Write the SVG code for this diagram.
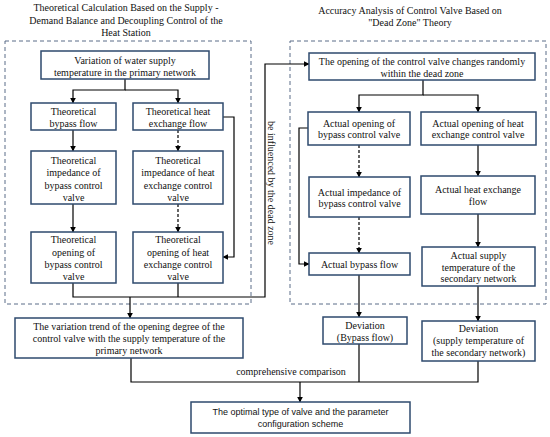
<svg xmlns="http://www.w3.org/2000/svg" width="550" height="437" viewBox="0 0 550 437">
<style>
.t{font-family:"Liberation Serif","Times New Roman",serif;font-size:10px;fill:#111;text-anchor:middle}
.s{font-family:"Liberation Sans",Arial,sans-serif;font-size:9px;fill:#111;text-anchor:middle}
.b{fill:#fff;stroke:#2e4a6e;stroke-width:1.5}
.g{fill:none;stroke:#5a6c88;stroke-width:1;stroke-dasharray:4 3}
.c{fill:none;stroke:#000;stroke-width:1.2}
.d{fill:none;stroke:#000;stroke-width:1.2;stroke-dasharray:3 2}
</style>
<defs>
<marker id="a" viewBox="0 0 10 10" refX="9" refY="5" markerWidth="6" markerHeight="6" orient="auto" markerUnits="userSpaceOnUse"><path d="M0,0L10,5L0,10z" fill="#000"/></marker>
</defs>
<rect width="550" height="437" fill="#fff"/>
<g id="titles">
<text class="t" x="126" y="11">Theoretical Calculation Based on the Supply -</text>
<text class="t" x="126" y="24">Demand Balance and Decoupling Control of the</text>
<text class="t" x="126" y="36">Heat Station</text>
<text class="t" x="410" y="14">Accuracy Analysis of Control Valve Based on</text>
<text class="t" x="410" y="26">"Dead Zone" Theory</text>
</g>
<g id="groups">
<rect class="g" x="5" y="41" width="246" height="263"/>
<rect class="g" x="290" y="41" width="256" height="263"/>
</g>
<g id="connectors">
<path class="c" d="M125,79V90H73V103" marker-end="url(#a)"/>
<path class="c" d="M125,90H178V103" marker-end="url(#a)"/>
<path class="c" d="M73,130V151" marker-end="url(#a)"/>
<path class="d" d="M178,130V151" marker-end="url(#a)"/>
<path class="c" d="M73,204V232" marker-end="url(#a)"/>
<path class="d" d="M178,204V232" marker-end="url(#a)"/>
<path class="c" d="M223,117H234V257H223" marker-end="url(#a)"/>
<path class="c" d="M73,283V297H265V64H309" marker-end="url(#a)"/>
<path class="c" d="M178,283V297"/>
<path class="c" d="M130,297V318" marker-end="url(#a)"/>
<path class="c" d="M423,80V95H359V112" marker-end="url(#a)"/>
<path class="c" d="M423,95H478V112" marker-end="url(#a)"/>
<path class="d" d="M359,145V177" marker-end="url(#a)"/>
<path class="c" d="M478,145V176" marker-end="url(#a)"/>
<path class="d" d="M359,217V253" marker-end="url(#a)"/>
<path class="c" d="M478,214V247" marker-end="url(#a)"/>
<path class="c" d="M308,128H299V264H309" marker-end="url(#a)"/>
<path class="c" d="M359,275V317" marker-end="url(#a)"/>
<path class="c" d="M478,286V321" marker-end="url(#a)"/>
<path class="c" d="M131,358V382H478V361"/>
<path class="c" d="M359,344V382"/>
<path class="c" d="M300,382V402" marker-end="url(#a)"/>
<text class="t" x="291" y="375">comprehensive comparison</text>
<text class="t" transform="translate(268,183) rotate(90)">be influenced by the dead zone</text>
</g>
<g id="n1"><rect class="b" x="41" y="51" width="168" height="28"/>
<text class="t" x="125" y="64">Variation of water supply</text><text class="t" x="125" y="75.5">temperature in the primary network</text></g>
<g id="n2"><rect class="b" x="31" y="103" width="85" height="27"/>
<text class="t" x="73.5" y="114.5">Theoretical</text><text class="t" x="73.5" y="126.5">bypass flow</text></g>
<g id="n3"><rect class="b" x="133" y="103" width="90" height="27"/>
<text class="t" x="178" y="114.5">Theoretical heat</text><text class="t" x="178" y="126.5">exchange flow</text></g>
<g id="n4"><rect class="b" x="31" y="151" width="85" height="53"/>
<text class="t" x="73.5" y="163.5">Theoretical</text><text class="t" x="73.5" y="176">impedance of</text><text class="t" x="73.5" y="188.5">bypass control</text><text class="t" x="73.5" y="201">valve</text></g>
<g id="n5"><rect class="b" x="133" y="151" width="90" height="53"/>
<text class="t" x="178" y="163.5">Theoretical</text><text class="t" x="178" y="176">impedance of heat</text><text class="t" x="178" y="188.5">exchange control</text><text class="t" x="178" y="201">valve</text></g>
<g id="n6"><rect class="b" x="31" y="232" width="85" height="51"/>
<text class="t" x="73.5" y="243">Theoretical</text><text class="t" x="73.5" y="255.5">opening of</text><text class="t" x="73.5" y="268">bypass control</text><text class="t" x="73.5" y="280">valve</text></g>
<g id="n7"><rect class="b" x="133" y="232" width="90" height="51"/>
<text class="t" x="178" y="243">Theoretical</text><text class="t" x="178" y="255.5">opening of heat</text><text class="t" x="178" y="268">exchange control</text><text class="t" x="178" y="280">valve</text></g>
<g id="n8"><rect class="b" x="309" y="53" width="226" height="27"/>
<text class="t" x="422" y="65">The opening of the control valve changes randomly</text><text class="t" x="422" y="76.5">within the dead zone</text></g>
<g id="n9"><rect class="b" x="308" y="112" width="102" height="33"/>
<text class="t" x="359" y="126.5">Actual opening of</text><text class="t" x="359" y="138">bypass control valve</text></g>
<g id="n10"><rect class="b" x="421" y="112" width="115" height="33"/>
<text class="t" x="478" y="126.5">Actual opening of heat</text><text class="t" x="478" y="138">exchange control valve</text></g>
<g id="n11"><rect class="b" x="309" y="177" width="101" height="40"/>
<text class="t" x="359.5" y="195.5">Actual impedance of</text><text class="t" x="359.5" y="207">bypass control valve</text></g>
<g id="n12"><rect class="b" x="421" y="176" width="114" height="38"/>
<text class="t" x="478" y="192.5">Actual heat exchange</text><text class="t" x="478" y="204.5">flow</text></g>
<g id="n13"><rect class="b" x="309" y="253" width="101" height="22"/>
<text class="t" x="359.5" y="267.5">Actual bypass flow</text></g>
<g id="n14"><rect class="b" x="422" y="247" width="113" height="39"/>
<text class="t" x="478.5" y="258.5">Actual supply</text><text class="t" x="478.5" y="270.5">temperature of the</text><text class="t" x="478.5" y="282">secondary network</text></g>
<g id="n15"><rect class="b" x="15" y="318" width="228" height="40"/>
<text class="t" x="129" y="329.5">The variation trend of the opening degree of the</text><text class="t" x="129" y="341.5">control valve with the supply temperature of the</text><text class="t" x="129" y="354">primary network</text></g>
<g id="n16"><rect class="b" x="323" y="317" width="84" height="27"/>
<text class="t" x="365" y="328.5">Deviation</text><text class="t" x="365" y="340.5">(Bypass flow)</text></g>
<g id="n17"><rect class="b" x="422" y="321" width="113" height="40"/>
<text class="t" x="478.5" y="331.5">Deviation</text><text class="t" x="478.5" y="343.5">(supply temperature of</text><text class="t" x="478.5" y="356">the secondary network)</text></g>
<g id="n18"><rect class="b" x="191" y="402" width="219" height="31"/>
<text class="s" x="300.5" y="415">The optimal type of valve and the parameter</text><text class="s" x="300.5" y="427">configuration scheme</text></g>
</svg>
